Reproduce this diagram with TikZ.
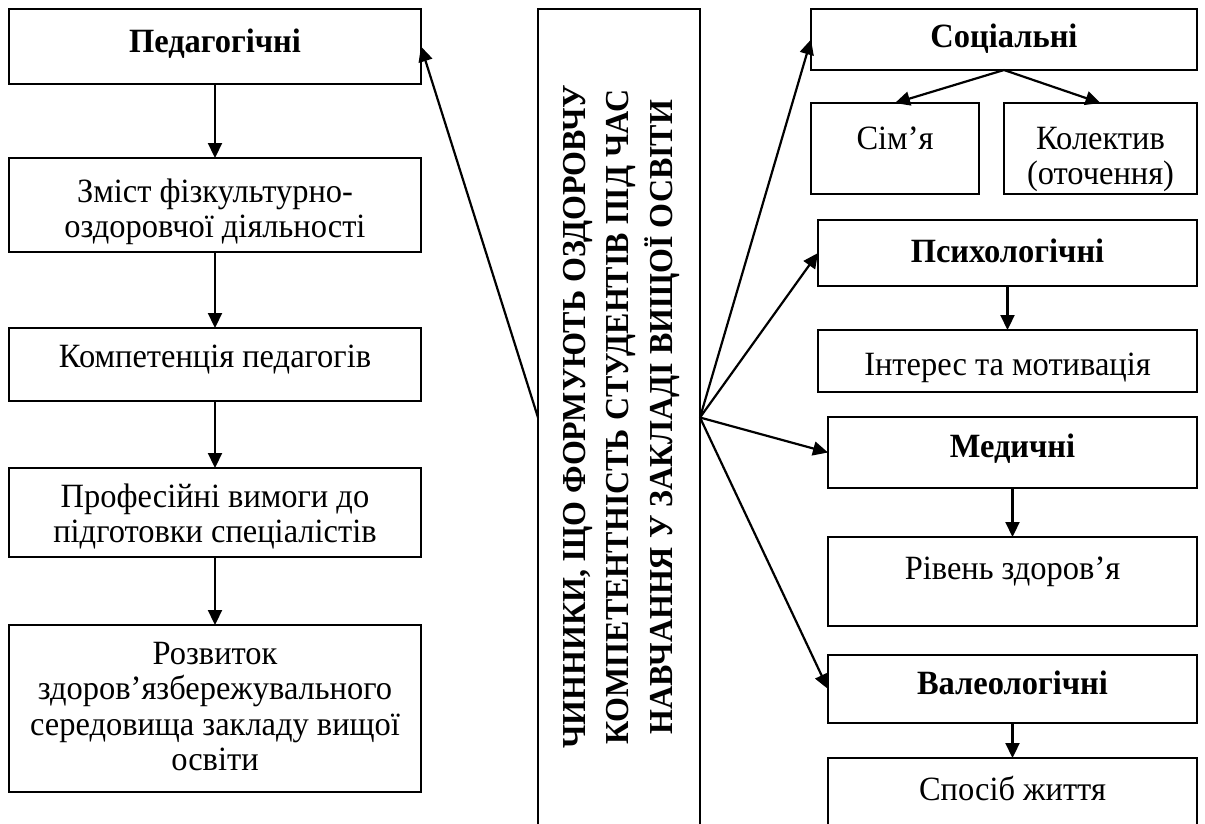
\documentclass[tikz,border=0pt]{standalone}
\usepackage{fontspec}
\setmainfont[FakeStretch=0.955]{Liberation Serif}
\usetikzlibrary{arrows.meta}
\newcommand\bodysize{\fontsize{34}{35.5}\selectfont}
% #1 name, #2/#3 top-left corner, #4/#5 bottom-right corner, #6 text drop, #7 text
\newcommand\factorbox[7]{%
  \node[box, minimum width={#4-#2}, minimum height={#5-#3}] (#1) at (#2,#3) {};
  \node[txt] (#1-t) at ([yshift=-#6pt]#1.north) {\strut #7};}
\begin{document}
\begin{tikzpicture}[x=1pt, y=-1pt,
  box/.style={draw, line width=1.5pt, inner sep=0pt, outer sep=0pt, anchor=north west},
  txt/.style={anchor=north, align=center, inner sep=0pt, font=\bodysize},
  arr/.style={-{Triangle[length=15pt, width=14pt]}, line width=2.2pt}]
\clip (0,0) rectangle (1205,823);
\fill[white] (0,0) rectangle (1205,823);

% left column: pedagogical factors
\factorbox{ped}{9}{9}{421}{84}{18}{\textbf{Педагогічні}}
\factorbox{zm}{9}{158}{421}{252}{19}{Зміст фізкультурно-\\оздоровчої діяльності}
\factorbox{komp}{9}{328}{421}{401}{14}{Компетенція педагогів}
\factorbox{prof}{9}{468}{421}{557}{14}{Професійні вимоги до\\підготовки спеціалістів}
\factorbox{rozv}{9}{625}{421}{792}{14}{Розвиток\\здоров’язбережувального\\середовища закладу вищої\\освіти}

% central box with the vertical title
\node[box, minimum width=162, minimum height=817] (cen) at (538,9) {};
\node[rotate=90, align=center, inner sep=0pt,
      font=\bfseries\fontsize{33.5}{43.5}\selectfont] (cen-t) at (621,417)
  {ЧИННИКИ, ЩО ФОРМУЮТЬ ОЗДОРОВЧУ\\КОМПЕТЕНТНІСТЬ СТУДЕНТІВ ПІД ЧАС\\НАВЧАННЯ У ЗАКЛАДІ ВИЩОЇ ОСВІТИ};

% right column: social, psychological, medical, valeological factors
\factorbox{soc}{811}{9}{1197}{70}{13}{\textbf{Соціальні}}
\factorbox{sim}{811}{103}{979}{194}{21}{Сім’я}
\factorbox{kol}{1004}{103}{1197}{194}{21}{Колектив\\(оточення)}
\factorbox{psy}{818}{220}{1197}{286}{17}{\textbf{Психологічні}}
\factorbox{inter}{818}{330}{1197}{392}{20}{Інтерес та мотивація}
\factorbox{med}{828}{417}{1197}{488}{15}{\textbf{Медичні}}
\factorbox{riv}{828}{537}{1197}{626}{17}{Рівень здоров’я}
\factorbox{val}{828}{655}{1197}{723}{14}{\textbf{Валеологічні}}
\factorbox{spos}{828}{758}{1197}{830}{17}{Спосіб життя}

% connectors
\draw[arr] (cen.west) -- (ped.east);
\draw[arr] (ped.south) -- (zm.north);
\draw[arr] (zm.south) -- (komp.north);
\draw[arr] (komp.south) -- (prof.north);
\draw[arr] (prof.south) -- (rozv.north);

\draw[arr] (cen.east) -- (soc.west);
\draw[arr] (cen.east) -- (psy.west);
\draw[arr] (cen.east) -- (med.west);
\draw[arr] (cen.east) -- (val.west);
\draw[arr] (soc.south) -- (sim.north);
\draw[arr] (soc.south) -- (kol.north);
\draw[arr] (psy.south) -- (inter.north);
\draw[arr] (med.south) -- (riv.north);
\draw[arr] (val.south) -- (spos.north);
\end{tikzpicture}
\end{document}
